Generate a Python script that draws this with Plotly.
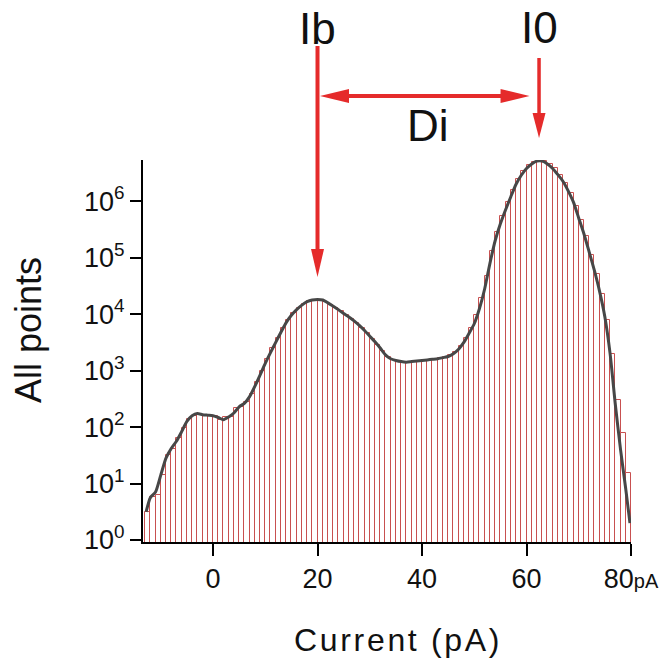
import numpy as np
import plotly.graph_objects as go

# ---------------- data ----------------
# histogram bins, 1 pA wide, centres from -12.5 to 79.5 pA
bin_centers = np.arange(-12.5, 80.0, 1.0)
# log10(counts) of each bin
bar_log = [
    0.49, 0.77, 0.80, 1.15, 1.50, 1.62, 1.80, 1.98, 2.15, 2.20,
    2.22, 2.21, 2.20, 2.20, 2.12, 2.17, 2.17, 2.33, 2.36, 2.45,
    2.58, 2.80, 3.00, 3.20, 3.40, 3.58, 3.75, 3.90, 4.02, 4.11,
    4.18, 4.23, 4.25, 4.25, 4.22, 4.17, 4.11, 4.05, 3.98, 3.91,
    3.84, 3.75, 3.66, 3.56, 3.45, 3.34, 3.24, 3.19, 3.16, 3.15,
    3.15, 3.16, 3.17, 3.18, 3.19, 3.20, 3.22, 3.24, 3.27, 3.33,
    3.44, 3.58, 3.75, 3.98, 4.28, 4.68, 5.12, 5.46, 5.74, 5.98,
    6.20, 6.39, 6.53, 6.64, 6.70, 6.73, 6.72, 6.66, 6.58, 6.46,
    6.32, 6.15, 5.92, 5.66, 5.38, 5.05, 4.72, 4.35, 3.90, 3.30,
    2.48, 1.90, 1.18,
]

# fitted (smooth) curve: x in pA, log10(counts)
curve_x = [-12.8, -12, -11, -10, -9, -8, -7, -6, -5, -4, -3, -2, -1, 0,
           1, 2, 3, 4, 5, 6, 7, 8, 9, 10, 11, 12, 13, 14, 15, 16, 17, 18,
           19, 20, 21, 22, 23, 24, 25, 26, 27, 28, 29, 30, 31, 32, 33, 34,
           35, 36, 37, 38, 39, 40, 41, 42, 43, 44, 45, 46, 47, 48, 49, 50,
           51, 52, 53, 54, 55, 56, 57, 58, 59, 60, 61, 62, 63, 64, 65, 66,
           67, 68, 69, 70, 71, 72, 73, 74, 75, 76, 77, 78, 79, 79.8]
curve_log = [0.50, 0.75, 0.85, 1.15, 1.45, 1.62, 1.75, 1.92, 2.10, 2.20,
             2.24, 2.22, 2.21, 2.20, 2.17, 2.13, 2.18, 2.25, 2.36, 2.42,
             2.54, 2.72, 2.92, 3.13, 3.32, 3.50, 3.68, 3.85, 3.98, 4.08,
             4.16, 4.22, 4.25, 4.26, 4.25, 4.20, 4.14, 4.08, 4.01, 3.95,
             3.88, 3.80, 3.71, 3.61, 3.51, 3.40, 3.28, 3.21, 3.18, 3.16,
             3.15, 3.16, 3.17, 3.18, 3.19, 3.20, 3.21, 3.23, 3.25, 3.30,
             3.38, 3.50, 3.66, 3.83, 4.10, 4.45, 4.90, 5.30, 5.60, 5.85,
             6.08, 6.30, 6.46, 6.58, 6.66, 6.71, 6.71, 6.66, 6.58, 6.47,
             6.35, 6.18, 5.98, 5.70, 5.42, 5.10, 4.77, 4.40, 3.95, 3.30,
             2.40, 1.60, 0.90, 0.30]

x_tick_vals = [0, 20, 40, 60, 80]
x_tick_text = ["0", "20", "40", "60", "80<span style='font-size:20px'>pA</span>"]
y_tick_exps = [0, 1, 2, 3, 4, 5, 6]

Ib_pos = 20.0     # pA
I0_pos = 62.4     # pA

# ---------------- styling ----------------
RED = "#e52b2b"
BAR_RED = "#c85050"
FONT = "Liberation Sans Narrow, Arial Narrow, Liberation Sans, Arial, sans-serif"
HS = "\u200a"  # hair space for letter-spaced axis titles

fig = go.Figure()
fig.add_trace(go.Bar(
    x=bin_centers, y=np.power(10.0, bar_log), width=1.0,
    marker=dict(color="white", line=dict(color=BAR_RED, width=1.0)),
    hoverinfo="skip", showlegend=False,
))
fig.add_trace(go.Scatter(
    x=curve_x, y=np.power(10.0, curve_log), mode="lines",
    line=dict(color="#474747", width=3, shape="spline", smoothing=0.6),
    hoverinfo="skip", showlegend=False,
))

# plot area: x from px 143 to 631, y from px 160 to 542
W, H = 663, 666
L, R, T, B = 143, 32, 160, 124
plot_h = H - T - B


def py(p):
    """pixel row -> paper y"""
    return (H - B - p) / plot_h


px_per_pa = (W - L - R) / (80 + 13.4)

shapes = []
# Ib vertical arrow
shapes.append(dict(type="line", xref="x", yref="paper", x0=Ib_pos, x1=Ib_pos,
                   y0=py(46), y1=py(252), line=dict(color=RED, width=4)))
hw = 6.5 / px_per_pa
shapes.append(dict(type="path", xref="x", yref="paper",
                   path=f"M {Ib_pos - hw},{py(249)} L {Ib_pos + hw},{py(249)} L {Ib_pos},{py(277)} Z",
                   fillcolor=RED, line=dict(color=RED, width=0)))
# I0 vertical arrow
shapes.append(dict(type="line", xref="x", yref="paper", x0=I0_pos, x1=I0_pos,
                   y0=py(58), y1=py(116), line=dict(color=RED, width=3.5)))
shapes.append(dict(type="path", xref="x", yref="paper",
                   path=f"M {I0_pos - hw},{py(113)} L {I0_pos + hw},{py(113)} L {I0_pos},{py(138)} Z",
                   fillcolor=RED, line=dict(color=RED, width=0)))
# Di horizontal double arrow
xa = Ib_pos + 2.5 / px_per_pa
xb = I0_pos - 9.5 / px_per_pa
hl = 29 / px_per_pa
yc = py(96)
dh = 7 / plot_h
shapes.append(dict(type="line", xref="x", yref="paper", x0=xa + hl - 0.5, x1=xb - hl + 0.5,
                   y0=yc, y1=yc, line=dict(color=RED, width=4)))
shapes.append(dict(type="path", xref="x", yref="paper",
                   path=f"M {xa},{yc} L {xa + hl},{yc + dh} L {xa + hl},{yc - dh} Z",
                   fillcolor=RED, line=dict(color=RED, width=0)))
shapes.append(dict(type="path", xref="x", yref="paper",
                   path=f"M {xb},{yc} L {xb - hl},{yc + dh} L {xb - hl},{yc - dh} Z",
                   fillcolor=RED, line=dict(color=RED, width=0)))

annotations = [
    dict(text="Ib", x=Ib_pos, y=py(28), xref="x", yref="paper", showarrow=False,
         font=dict(family=FONT, size=44, color="#111111"), xanchor="center", yanchor="middle"),
    dict(text="I0", x=I0_pos, y=py(27), xref="x", yref="paper", showarrow=False,
         font=dict(family=FONT, size=44, color="#111111"), xanchor="center", yanchor="middle"),
    dict(text="Di", x=(Ib_pos + I0_pos) / 2, y=py(126), xref="x", yref="paper", showarrow=False,
         font=dict(family=FONT, size=44, color="#111111"), xanchor="center", yanchor="middle"),
    dict(text="All points", x=(28 - L) / (W - L - R), y=py(330), xref="paper", yref="paper",
         showarrow=False, textangle=-90,
         font=dict(family="Liberation Sans, Arial, sans-serif", size=36, color="#111111"),
         xanchor="center", yanchor="middle"),
    dict(text=HS.join("Current (pA)"), x=(396 - L) / (W - L - R), y=py(640), xref="paper", yref="paper",
         showarrow=False,
         font=dict(family="Liberation Sans, Arial, sans-serif", size=32, color="#111111"),
         xanchor="center", yanchor="middle"),
]

fig.update_layout(
    width=W, height=H,
    margin=dict(l=L, r=R, t=T, b=B, pad=0, autoexpand=False),
    plot_bgcolor="white", paper_bgcolor="white",
    bargap=0,
    shapes=shapes, annotations=annotations,
    showlegend=False,
)
fig.update_xaxes(
    range=[-13.4, 80], tickvals=x_tick_vals, ticktext=x_tick_text,
    ticks="outside", ticklen=12, tickwidth=2, tickcolor="black",
    showline=True, linecolor="black", linewidth=2,
    showgrid=False, zeroline=False, automargin=False,
    tickfont=dict(family=FONT, size=27, color="#111111"),
)
fig.update_yaxes(
    type="log", range=[-0.035, 6.73],
    tickvals=[10.0 ** e for e in y_tick_exps],
    ticktext=[f"10<sup>{e}</sup>" for e in y_tick_exps],
    ticks="outside", ticklen=11, tickwidth=2, tickcolor="black",
    showline=True, linecolor="black", linewidth=2,
    showgrid=False, zeroline=False, automargin=False,
    tickfont=dict(family=FONT, size=27, color="#111111"),
)

fig.write_html("out.html")
